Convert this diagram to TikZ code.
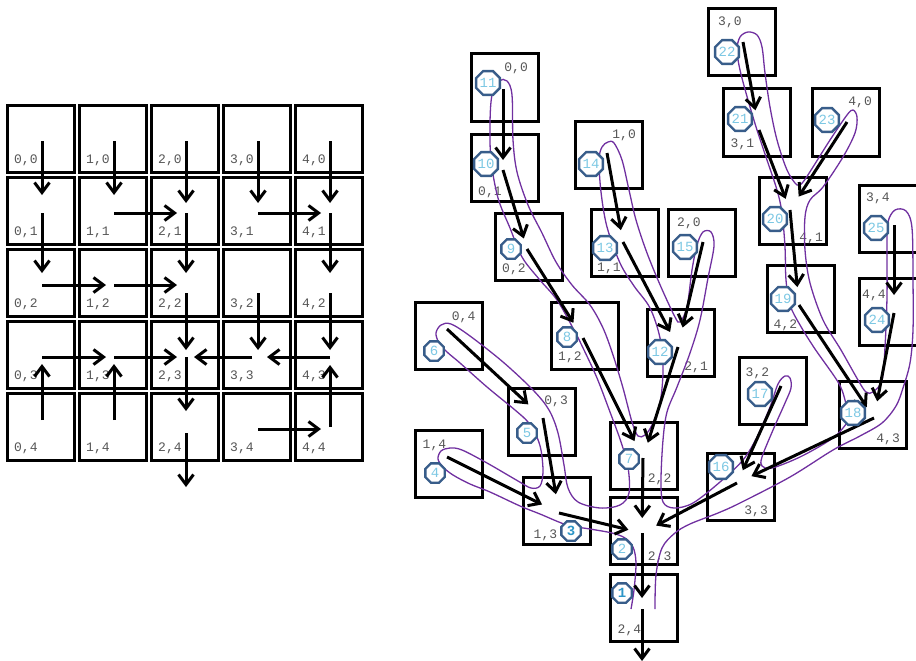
\documentclass[tikz,border=0pt]{standalone}
\usepackage{fontspec}
\setmonofont{Liberation Mono}
\usetikzlibrary{arrows.meta,shapes.geometric,calc}

\definecolor{tourpurple}{RGB}{112,48,160}
\definecolor{octline}{RGB}{56,93,138}
\definecolor{octtext}{RGB}{125,200,228}
\definecolor{octstrong}{RGB}{45,150,200}
\definecolor{lblgray}{RGB}{85,85,85}

\begin{document}
\begin{tikzpicture}[
    x=1pt, y=-1pt,
    cell/.style={rectangle, draw=black, line width=3pt, minimum size=67pt, inner sep=0pt, outer sep=0pt},
    lbl/.style={font=\ttfamily\fontsize{13}{13}\selectfont, text=lblgray, inner sep=0pt},
    arr/.style={line width=3pt, -{Straight Barb[length=10pt,width=15pt]}},
    tour/.style={draw=tourpurple, line width=1.3pt},
    oct/.style={regular polygon, regular polygon sides=8, draw=octline, line width=2.4pt, fill=white,
        inner sep=0pt, minimum size=21pt, font=\ttfamily\fontsize{14}{14}\selectfont, text=octtext},
    octhi/.style={oct, text=octstrong, font=\ttfamily\bfseries\fontsize{14}{14}\selectfont}
]
\useasboundingbox (0,0) rectangle (916,661);

% =========================================================
% Grid of cells
% =========================================================
\foreach \col in {0,...,4}{
  \foreach \row in {0,...,4}{
    \node[cell] (g\col\row) at ({40.5+72*\col},{138.5+72*\row}) {};
    \node[lbl, anchor=base west] at ($(g\col\row.south west)+(7,-9)$) {\col,\row};
    \coordinate (q\col\row) at ({42+72*\col},{141+72*\row});
  }
}

% Grid arrows: from / to / shorten end / shorten start
\foreach \a/\b/\s/\t in {00/01/18/0, 10/11/18/0, 20/21/10/0, 30/31/10/0, 40/41/10/0,
                         01/02/12/0, 11/21/9/0, 21/22/12/0, 31/41/9/0, 41/42/12/0,
                         02/12/8/0, 12/22/9/0, 22/23/7/8, 32/33/7/8, 42/43/7/8,
                         03/13/8/0, 13/23/9/0, 33/23/8/6, 43/33/9/0,
                         04/03/7/9, 14/13/7/9, 23/24/18/0, 34/44/9/0, 44/43/8/2}
  \draw[arr, shorten >=\s pt, shorten <=\t pt] (q\a) -- (q\b);

\coordinate (g-out) at (186,487);
\draw[arr, shorten <=4pt] (q24) -- (g-out);

% =========================================================
% Tree of cells
% =========================================================
\foreach \col/\row/\x/\y/\corner/\anc/\dx/\dy in {
    0/0/504.5/87.5/north east/north east/-10/9,
    0/1/504.5/167.5/south west/base west/7/-6,
    0/2/528.5/247/south west/base west/7/-8,
    1/0/608.5/154.5/north east/north east/-6/9,
    1/1/624.5/243/south west/base west/6/-5,
    2/0/701.5/243/north west/north west/9/8,
    1/2/584.5/335.5/south west/base west/7/-9,
    2/1/680.5/343/south east/base east/-6/-6,
    0/4/449/335.5/north east/north east/-7/10,
    0/3/541.5/422/north east/north east/-7/7,
    1/4/449/463.5/north west/north west/7/10,
    1/3/557/510.5/south west/base west/10/-6,
    2/2/644/455.5/south east/base east/-6/-7,
    2/3/644/530.5/south east/base east/-6/-4,
    2/4/644/608/south west/base west/7/-8,
    3/0/741.5/42.5/north west/north west/10/8,
    3/1/757/122.5/south west/base west/7/-9,
    4/0/845.5/122.5/north east/north east/-7/8,
    4/1/792.5/210.5/south east/base east/-3/-3,
    3/4/892.5/218.5/north west/north west/7/8,
    4/4/892.5/311.5/north west/north west/3/12,
    4/2/801/298.5/south west/base west/6/-4,
    3/2/773/391/north west/north west/6/10,
    4/3/872.5/415/south east/base east/-6/-6,
    3/3/740.5/487/south east/base east/-6/-6}{
  \node[cell] (t\col\row) at (\x,\y) {};
  \node[lbl, anchor=\anc] at ($(t\col\row.\corner)+(\dx,\dy)$) {\col,\row};
}

% arrow pins
\foreach \k/\x/\y in {00/503/89, 01/503/170, 02/527/249, 12/583/338, 22/643/458,
                      23/642/533, 24/642/609, 10/607/153, 11/623/242, 21/678/347,
                      20/703/242, 04/447/329, 03/543/418, 14/447/457, 13/559/513,
                      30/743/42, 31/759/130, 40/847/122, 41/790/210, 42/799/305,
                      43/874/418, 34/894/225, 44/894/313, 32/781/386, 33/737/483}
  \coordinate (p\k) at (\x,\y);

% Tour round the tree
\draw[tour] plot[smooth, tension=0.55] coordinates {
  (631,609) (634,590) (636,563) (633,547) (625,538) (612,533) (590,529) (567,525)
  (540,514) (520,506) (490,492) (470,484) (453,475) (443,467) (438,459) (441,451)
  (450,448) (462,450) (487,463) (518,481) (531,488) (540,486) (543,472) (541,450)
  (536,435) (528,422) (515,410) (487,387) (460,363) (447,352) (439,343) (436,333)
  (441,325) (451,324) (470,336) (503,362) (533,390) (549,410) (558,433) (564,465)
  (568,488) (578,502) (600,508) (620,505) (629,493) (628,467) (621,442) (610,412)
  (597,378) (584,350) (574,330) (557,300) (539,279) (522,257) (510,228) (498,198)
  (491,160) (490,123) (492,95) (499,81) (507,81) (512,95) (513,140) (517,172)
  (528,205) (542,233) (556,262) (572,285) (590,305) (603,328) (613,355) (623,388)
  (632,422) (638,436) (645,435) (652,425) (660,403) (663,370) (660,338) (650,308)
  (634,286) (620,263) (607,227) (601,192) (599,160) (602,147) (608,142) (614,143)
  (622,160) (629,190) (636,220) (647,253) (661,287) (675,317) (680,322) (687,307)
  (692,270) (697,245) (703,232) (711,232) (714,246) (708,278) (700,320) (690,353)
  (677,387) (667,412) (663,440) (661,480) (663,502) (674,508) (693,503) (720,482)
  (743,460) (757,437) (770,407) (778,384) (785,376) (790,378) (791,388) (785,403)
  (773,430) (762,457) (762,466) (772,468) (800,457) (830,440) (843,428) (848,418)
  (845,400) (838,382) (815,349) (800,325) (790,305) (786,280) (785,247) (782,213)
  (777,190) (767,160) (757,130) (748,100) (740,70) (737,50) (740,37) (748,32)
  (757,35) (762,47) (765,73) (770,107) (777,140) (787,170) (797,185) (803,182)
  (813,167) (830,140) (847,115) (853,110) (857,117) (855,133) (843,157) (823,187)
  (810,200) (805,217) (805,250) (810,283) (823,320) (841,350) (858,380) (866,392)
  (873,392) (882,380) (885,347) (887,297) (887,247) (888,222) (895,210) (906,211)
  (912,228) (913,280) (913,330) (910,363) (903,388) (896,406) (882,423) (860,436)
  (833,450) (790,477) (740,503) (718,513) (690,524) (675,533) (662,548) (656,575)
  (655,609)};

% Tree arrows: child / parent / shorten end
\foreach \a/\b/\s in {00/01/10, 01/02/11, 02/12/18, 12/22/19, 10/11/12, 11/21/17,
                      20/21/20, 21/22/16, 22/23/15, 04/03/20, 03/13/19, 14/13/19,
                      13/23/14, 33/23/16, 30/31/20, 31/41/12, 40/41/16, 41/42/18,
                      42/43/13, 34/44/18, 44/43/17, 43/33/16, 32/33/14, 23/24/11}
  \draw[arr, shorten >=\s pt] (p\a) -- (p\b);

\coordinate (t-out) at (642,661);
\draw[arr] (p24) -- (t-out);

% Visit order
\foreach \k/\x/\y in {11/488/83, 10/486/164, 14/591/164, 22/727/52, 21/740/119,
                      23/827/120, 20/775/219, 25/876/228, 24/877/320, 19/783/299,
                      18/853/413, 17/760/394, 16/721/467, 9/511/249, 13/605/248,
                      15/685/247, 8/567/337, 6/434/351, 12/660/352, 5/527/433,
                      4/435/473, 7/629/459, 2/622/549}
  \node[oct] (o\k) at (\x,\y) {\k};
\node[octhi] (o3) at (571,531) {3};
\node[octhi] (o1) at (622,593) {1};

\end{tikzpicture}
\end{document}
